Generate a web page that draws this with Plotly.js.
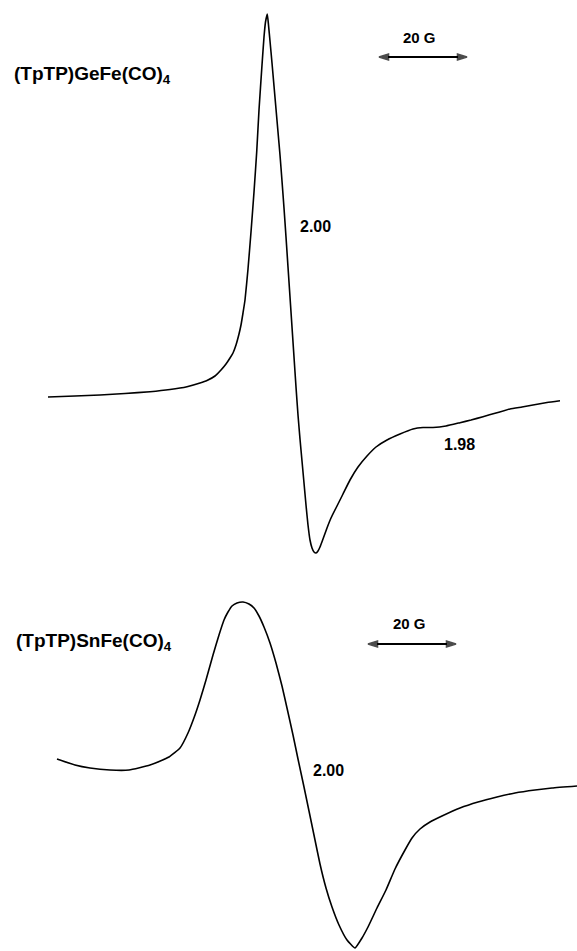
<!DOCTYPE html>
<html>
<head>
<meta charset="utf-8">
<script src="https://cdn.plot.ly/plotly-3.0.1.min.js"></script>
<style>html,body{margin:0;padding:0;background:#fff;}#chart{width:577px;height:951px;}</style>
</head>
<body>
<div id="chart"></div>
<script>
// Field axis (arbitrary units; 88 units = 20 G), derivative intensity (arbitrary units)
const geField = [48,75,100,125,150,170,187,200,207,215,221,226,230,233,236,239,241,243,245,248,251,254,256.7,259,262,264,265.5,267.3,268.5,270,272,274,276,278,280,282,284,286,288,290,292,294,296,298,300,302,304,306,308,310,312,314,316,318,320,323,327,331,337,343,350,358,367,376,387,400,413,423,433,446,460,471,483,496,510,522,533,547,560];
const geSignal = [0,1,2,3.5,5.3,7.5,10.3,14,16.5,21,27,33,39,44,52,63,72,84,97,128,165,205,245,287,332,360,375,383,372,356,334,311,288,265,242,216,189,160,130,100,70,40,10,-18,-42,-64,-86,-108,-128,-143,-151,-155,-156,-154,-150,-142,-131,-121,-109,-97,-83,-70,-59,-50,-43,-37,-32,-30.5,-30.5,-29,-25.7,-23,-19.7,-16,-12,-10,-8,-5.5,-3.7];

const snField = [57,75,90,110,129,150,169,180,188,195,200,206,213,219,224,228,232,237,243,249,254,259,264,270,276,282,287,293,298,304,309,315,320,326,332,339,347,355,362,368,377,386,395,405,412,420,430,442,460,478,497,515,535,552,577];
const snSignal = [11,5,2,0,0,5,13,22,37,55,70,90,115,135,150,158,164,167,168,166,162,154,143,127,107,84,62,35,11,-17,-41,-70,-94,-118,-137,-155,-170,-178,-168,-157,-138,-120,-99,-80,-68,-59,-52,-46,-38,-32,-27,-23,-20,-18,-16];

const geLabel = "(TpTP)GeFe(CO)<sub>4</sub>";
const snLabel = "(TpTP)SnFe(CO)<sub>4</sub>";
const scaleLabel = "20 G";
const scaleBarLength = 88;          // field units spanning 20 G
const geScaleBarStart = 379;
const snScaleBarStart = 368;
const geGLabels = ["2.00", "1.98"];
const snGLabels = ["2.00"];

const lineStyle = {color: "#000", width: 1.6, shape: "spline", smoothing: 0.4};
const traces = [
  {x: geField, y: geSignal, mode: "lines", line: lineStyle, yaxis: "y", hoverinfo: "skip"},
  {x: snField, y: snSignal, mode: "lines", line: lineStyle, yaxis: "y2", hoverinfo: "skip"}
];

function scaleBar(x0, y, yaxis) {
  const mid = x0 + scaleBarLength / 2;
  const half = (xEnd) => ({
    x: [mid, xEnd], y: [y, y], yaxis: yaxis, mode: "lines+markers", hoverinfo: "skip",
    line: {color: "#000", width: 2},
    marker: {symbol: "arrow", angleref: "previous", size: [0, 10], color: "#000",
             line: {color: "#000", width: 1.5}}
  });
  return [half(x0), half(x0 + scaleBarLength)];
}
traces.push(...scaleBar(geScaleBarStart, 340, "y"));
traces.push(...scaleBar(snScaleBarStart, 126, "y2"));

const bold = {family: "Liberation Sans, Arial, sans-serif", color: "#000", weight: 700};
function txt(x, y, yref, text, size, xanchor) {
  return {x: x, y: y, xref: "x", yref: yref, text: "<b>" + text + "</b>", showarrow: false,
          xanchor: xanchor || "center", yanchor: "middle",
          font: Object.assign({}, bold, {size: size})};
}

const layout = {
  width: 577, height: 951,
  margin: {l: 0, r: 0, t: 0, b: 0},
  paper_bgcolor: "#fff", plot_bgcolor: "#fff",
  showlegend: false,
  xaxis: {range: [0, 577], visible: false, fixedrange: true},
  yaxis: {range: [-554, 397], visible: false, fixedrange: true},
  yaxis2: {range: [-181, 770], visible: false, overlaying: "y", fixedrange: true},
  annotations: [
    txt(12, 322, "y", geLabel, 19, "left"),
    txt(419, 360, "y", scaleLabel, 15),
    txt(315, 171, "y", geGLabels[0], 16),
    txt(459, -47, "y", geGLabels[1], 16),
    txt(14, 128, "y2", snLabel, 19, "left"),
    txt(409, 147, "y2", scaleLabel, 15),
    txt(328, 0, "y2", snGLabels[0], 16)
  ]
};

Plotly.newPlot("chart", traces, layout, {staticPlot: true, displayModeBar: false});
</script>
</body>
</html>
